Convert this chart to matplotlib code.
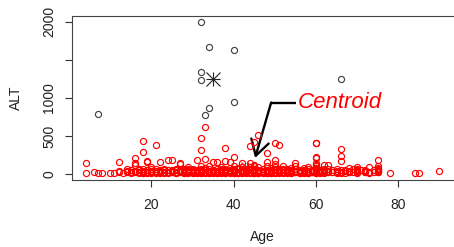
import numpy as np
import matplotlib
matplotlib.use("Agg")
import matplotlib.pyplot as plt
from matplotlib.patches import FancyArrowPatch

plt.rcParams['font.family'] = ['Liberation Sans', 'DejaVu Sans']

# cluster 2 (high ALT outliers)
hi_age = [7, 32, 34, 32, 32, 34, 33, 40, 40, 66]
hi_alt = [785, 2000, 1675, 1346, 1241, 864, 776, 1623, 943, 1246]

# cluster 1 (bulk of patients)
lo_age = [4, 4, 6, 7, 8, 10, 11, 12, 12, 12, 13, 14, 14,
          15, 16, 16, 16, 16, 16, 17, 17, 18, 18, 18, 18, 18, 18, 18, 19, 19, 19, 19,
          20, 20, 20, 20, 21, 21, 21, 22, 22, 22, 22, 23, 23, 24, 24, 24,
          25, 25, 25, 25, 26, 26, 26, 27, 27, 27, 27, 28, 28, 28, 29, 29, 29,
          30, 30, 30, 30, 31, 31, 31, 32, 32, 32, 32, 32, 32, 32, 33, 33, 33, 33, 33,
          34, 34, 34, 34,
          35, 35, 35, 36, 36, 36, 36, 37, 37, 37, 38, 38, 38, 38, 38, 39, 39, 39, 39,
          40, 40, 40, 40, 40, 40, 41, 41, 41, 42, 42, 42, 42, 43, 43, 43, 44, 44, 44, 44, 44,
          45, 45, 45, 45, 45, 45, 45, 45, 45, 46, 46, 46, 46, 47, 47, 47,
          48, 48, 48, 48, 48, 49, 49, 49,
          50, 50, 50, 50, 50, 50, 50, 51, 51, 51, 52, 52, 52, 53, 53, 53, 54, 54, 54,
          55, 55, 55, 55, 55, 56, 56, 57, 57, 57, 58, 58, 58, 59, 59,
          60, 60, 60, 60, 60, 60, 60, 60, 60, 60, 60, 60, 61, 61, 62, 62, 62, 62,
          63, 63, 63, 64, 64,
          65, 65, 65, 66, 66, 66, 66, 66, 67, 67, 68, 68, 68, 69,
          70, 70, 70, 70, 70, 72, 72, 73, 73, 74, 75, 75, 75, 75, 75, 75,
          78, 84, 85, 90]
lo_alt = [141, 17, 30, 17, 17, 17, 17, 154, 40, 22, 17, 62, 20,
          25, 215, 118, 141, 35, 20, 22, 45, 434, 294, 62, 40, 28, 18, 15, 162, 175, 30, 22,
          96, 25, 40, 18, 382, 60, 28, 162, 35, 20, 15, 45, 25, 184, 30, 18,
          188, 55, 30, 20, 70, 28, 15, 131, 141, 40, 22, 60, 35, 18, 85, 25, 45,
          50, 30, 18, 70, 184, 40, 22, 478, 316, 100, 55, 35, 20, 15, 618, 197, 80, 45, 25,
          60, 30, 18, 110,
          163, 40, 22, 163, 65, 30, 15, 90, 45, 20, 346, 171, 55, 28, 16, 162, 75, 35, 20,
          228, 110, 60, 40, 25, 15, 80, 30, 18, 141, 95, 50, 25, 65, 35, 20, 372, 141, 90, 45, 28,
          417, 120, 100, 70, 50, 35, 25, 18, 12, 513, 85, 40, 20, 60, 30, 15,
          272, 162, 100, 50, 25, 75, 35, 18,
          404, 184, 125, 90, 55, 30, 18, 386, 60, 25, 100, 45, 20, 70, 35, 15, 80, 40, 22,
          141, 110, 60, 35, 20, 50, 25, 75, 30, 15, 90, 40, 20, 55, 25,
          404, 412, 228, 206, 141, 118, 100, 80, 60, 45, 30, 18, 50, 22, 118, 70, 35, 18,
          118, 40, 20, 55, 25,
          60, 30, 15, 329, 241, 171, 50, 25, 35, 18, 83, 40, 20, 30,
          96, 70, 50, 35, 20, 40, 20, 96, 30, 25, 184, 110, 80, 55, 35, 20,
          17, 12, 12, 43]

# more of cluster 1, low ALT band
band_age = [14, 15, 15, 17, 17, 19, 19, 20, 20, 21,
            21, 22, 23, 23, 24, 24, 25, 26, 26, 27,
            28, 28, 29, 29, 30, 30, 31, 31, 32, 32,
            33, 33, 34, 34, 35, 35, 36, 36, 37, 37,
            38, 38, 39, 39, 40, 40, 41, 41, 42, 42,
            43, 43, 44, 44, 45, 45, 45, 46, 46, 47,
            47, 48, 48, 49, 49, 50, 50, 51, 51, 52,
            52, 53, 53, 54, 54, 55, 55, 56, 56, 57,
            57, 58, 58, 59, 59, 60, 60, 61, 61, 62,
            62, 63, 64, 65, 65, 66, 67, 68, 69, 70,
            70, 71, 72, 72, 73, 74, 75, 75,
            28, 29, 30, 31, 32, 33, 34, 35, 36, 37,
            38, 39, 40, 41, 42, 43, 44, 45, 45, 46,
            47, 48, 49, 50, 51, 52, 53, 54, 55, 56,
            57, 58, 59, 60, 60, 61, 62, 30, 32, 34,
            36, 38, 40, 42, 44, 46, 48, 50, 52, 54,
            56, 58, 60, 45, 45, 45]
band_alt = [35, 12, 48, 15, 65, 12, 55, 40, 70, 14,
            42, 50, 12, 65, 22, 52, 38, 12, 45, 58,
            14, 50, 12, 60, 24, 42, 55, 14, 28, 65,
            12, 58, 40, 24, 55, 14, 44, 22, 60, 12,
            38, 70, 48, 12, 30, 50, 60, 14, 38, 16,
            48, 12, 60, 22, 14, 30, 42, 58, 12, 70,
            42, 16, 38, 50, 12, 65, 22, 45, 14, 60,
            28, 52, 20, 58, 12, 65, 28, 40, 14, 52,
            22, 65, 12, 42, 30, 55, 24, 36, 12, 48,
            25, 62, 30, 40, 22, 12, 58, 30, 62, 28,
            18, 50, 24, 58, 12, 45, 28, 60,
            20, 32, 26, 32, 26, 20, 36, 28, 20, 32,
            24, 28, 20, 24, 30, 26, 20, 28, 40, 30,
            24, 32, 26, 20, 34, 30, 26, 32, 26, 20,
            36, 26, 32, 26, 36, 30, 26, 10, 11, 12,
            11, 10, 12, 11, 10, 12, 11, 10, 12, 11,
            10, 12, 11, 22, 32, 64]

red_age = lo_age + band_age
red_alt = lo_alt + band_alt

hi_c = (np.mean(hi_age), np.mean(hi_alt))
lo_c = (np.mean(red_age), np.mean(red_alt))

fig = plt.figure(figsize=(4.54, 2.47), dpi=100)
ax = fig.add_axes([71.5 / 454, 67 / 247, (453.5 - 71.5) / 454, (231.3 - 67) / 247])

ax.plot(red_age, red_alt, 'o', ms=4.4, mfc='none', mec='#ff0000', mew=0.85, ls='none')
ax.plot(hi_age, hi_alt, 'o', ms=4.4, mfc='none', mec='#444444', mew=0.85, ls='none')

# centroids, R pch=8 style asterisk
for (cx, cy), col in [(lo_c, '#ff0000'), (hi_c, '#222222')]:
    ax.plot([cx], [cy], marker='+', ms=10.5, mew=0.8, color=col, ls='none')
    ax.plot([cx], [cy], marker='x', ms=10.5, mew=0.8, color=col, ls='none')

# arrow pointing at the red centroid
ax.plot([55.2, 49.1], [938, 938], color='black', lw=1.7, solid_capstyle='butt')
arr = FancyArrowPatch((49.1, 938), (45.2, 210), arrowstyle='->,head_length=11,head_width=6.5',
                      mutation_scale=1, color='black', lw=1.7, shrinkA=0, shrinkB=0)
ax.add_patch(arr)
ax.text(55.5, 938, 'Centroid', color='#ff0000', fontsize=16, style='italic',
        ha='left', va='center')

ax.set_xlim(0.56, 93.44)
ax.set_ylim(-80, 2080)
ax.set_xticks([20, 40, 60, 80])
ax.set_yticks([0, 500, 1000, 1500, 2000])
ax.set_yticklabels(['0', '500', '1000', '', '2000'], rotation=90, va='center')
ax.tick_params(axis='both', length=5, width=0.8, color='#333333', labelsize=10,
               labelcolor='#222222')
ax.tick_params(axis='x', pad=8)
ax.tick_params(axis='y', pad=6)
for s in ['left', 'top', 'bottom']:
    ax.spines[s].set_color('#444444')
    ax.spines[s].set_linewidth(0.8)
ax.spines['right'].set_visible(False)

ax.set_xlabel('Age', fontsize=10, color='#222222', labelpad=13)
ax.set_ylabel('ALT', fontsize=10, color='#222222', labelpad=14)

fig.savefig('out.png', dpi=100)
